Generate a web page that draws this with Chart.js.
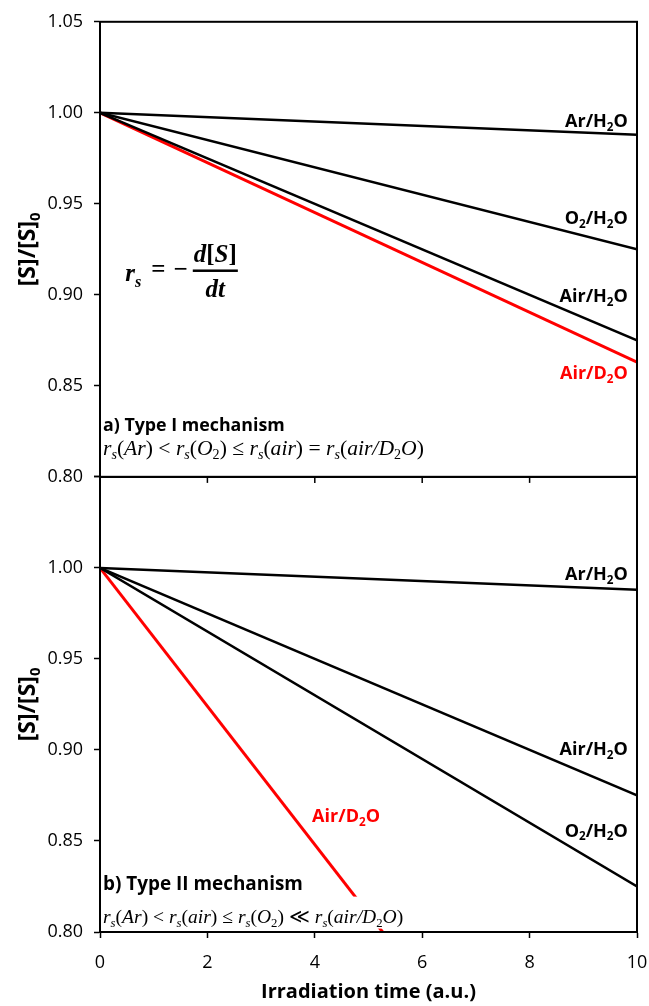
<!DOCTYPE html>
<html>
<head>
<meta charset="utf-8">
<script src="https://cdn.jsdelivr.net/npm/chart.js@4"></script>
<style>
  html, body { margin: 0; padding: 0; background: #fff; }
  #wrap { width: 649px; height: 1006px; position: relative; }
</style>
</head>
<body>
<div id="wrap"><canvas id="chart" width="649" height="1006"></canvas></div>
<script>
// Irradiation time (a.u.), start and end of each straight line
const time = [0, 10];

// a) Type I mechanism
const arH2O_a = [1.000, 0.988];
const o2H2O_a = [1.000, 0.925];
const airH2O_a = [1.000, 0.875];
const airD2O_a = [1.000, 0.863];

// b) Type II mechanism
const arH2O_b = [1.000, 0.988];
const airH2O_b = [1.000, 0.875];
const o2H2O_b = [1.000, 0.825];
const airD2O_b = [1.000, 0.620];

const xTickStep = 2;
const yMin = 0.80, yMax = 1.05, yTickStep = 0.05;

const SANS = '"Open Sans", "Noto Sans", sans-serif';
const SERIF = '"Liberation Serif", "DejaVu Serif", serif';
const RED = '#ff0000';

function pts(ys) {
  return time.map((t, i) => ({ x: t, y: ys[i] }));
}

function line(ys, axis, color, width) {
  return {
    data: pts(ys),
    yAxisID: axis,
    borderColor: color,
    borderWidth: width,
    pointRadius: 0,
    tension: 0,
  };
}

// draw text made of parts: [text, sub, italic]
function drawRich(ctx, x, y, parts, opt) {
  const size = opt.size;
  const fontOf = (p) => {
    const s = p[1] ? size * 0.65 : size;
    return (p[2] ? 'italic ' : '') + (opt.bold ? 'bold ' : '') + s + 'px ' + opt.family;
  };
  let w = 0;
  parts.forEach((p) => { ctx.font = fontOf(p); w += ctx.measureText(p[0]).width; });
  let cx = x;
  if (opt.align === 'right') cx = x - w;
  if (opt.align === 'center') cx = x - w / 2;
  const base = y + size * 0.36;
  ctx.fillStyle = opt.color || '#000';
  ctx.textBaseline = 'alphabetic';
  ctx.textAlign = 'left';
  parts.forEach((p) => {
    ctx.font = fontOf(p);
    ctx.fillText(p[0], cx, p[1] ? base + size * 0.22 : base);
    cx += ctx.measureText(p[0]).width;
  });
  return { left: x, right: x + w, width: w };
}

// font size so that parts fill a given width
function fitSize(ctx, parts, family, bold, target, base) {
  let w = 0;
  parts.forEach((p) => {
    const s = p[1] ? base * 0.65 : base;
    ctx.font = (p[2] ? 'italic ' : '') + (bold ? 'bold ' : '') + s + 'px ' + family;
    w += ctx.measureText(p[0]).width;
  });
  return base * target / w;
}

const lblAr = [['Ar/H', 0], ['2', 1], ['O', 0]];
const lblO2 = [['O', 0], ['2', 1], ['/H', 0], ['2', 1], ['O', 0]];
const lblAir = [['Air/H', 0], ['2', 1], ['O', 0]];
const lblAirD = [['Air/D', 0], ['2', 1], ['O', 0]];

const formulaA = [
  ['r', 0, 1], ['s', 1, 1], ['(', 0, 0], ['Ar', 0, 1], [') < ', 0, 0],
  ['r', 0, 1], ['s', 1, 1], ['(', 0, 0], ['O', 0, 1], ['2', 1, 0], [') \u2264 ', 0, 0],
  ['r', 0, 1], ['s', 1, 1], ['(', 0, 0], ['air', 0, 1], [') = ', 0, 0],
  ['r', 0, 1], ['s', 1, 1], ['(', 0, 0], ['air/D', 0, 1], ['2', 1, 0], ['O', 0, 1], [')', 0, 0],
];
const formulaB = [
  ['r', 0, 1], ['s', 1, 1], ['(', 0, 0], ['Ar', 0, 1], [') < ', 0, 0],
  ['r', 0, 1], ['s', 1, 1], ['(', 0, 0], ['air', 0, 1], [') \u2264 ', 0, 0],
  ['r', 0, 1], ['s', 1, 1], ['(', 0, 0], ['O', 0, 1], ['2', 1, 0], [') \u226A ', 0, 0],
  ['r', 0, 1], ['s', 1, 1], ['(', 0, 0], ['air/D', 0, 1], ['2', 1, 0], ['O', 0, 1], [')', 0, 0],
];

const annotate = {
  id: 'annotate',
  afterDraw(chart) {
    const ctx = chart.ctx;
    const x = chart.scales.x;
    const ya = chart.scales.yA;
    const yb = chart.scales.yB;
    const area = chart.chartArea;
    ctx.save();

    // white box behind the Type II formula (hides the red line there)
    const fB = fitSize(ctx, formulaB, SERIF, false, 300, 18);
    const fbY = yb.getPixelForValue(0.809);
    ctx.fillStyle = '#fff';
    ctx.fillRect(area.left + 1, fbY - 19, 305, 32);

    // panel frames
    ctx.strokeStyle = '#000';
    ctx.lineWidth = 2;
    ctx.strokeRect(area.left, ya.top, area.right - area.left, ya.bottom - ya.top);
    ctx.strokeRect(area.left, yb.top, area.right - area.left, yb.bottom - yb.top);

    // x tick marks under the top panel
    ctx.lineWidth = 1.5;
    x.ticks.forEach((t) => {
      const px = x.getPixelForValue(t.value);
      ctx.beginPath();
      ctx.moveTo(px, ya.bottom);
      ctx.lineTo(px, ya.bottom + 6);
      ctx.stroke();
    });

    const lab = { size: 18, family: SANS, bold: true, align: 'right' };
    const xr = x.getPixelForValue(9.83);
    drawRich(ctx, xr, ya.getPixelForValue(0.9956), lblAr, lab);
    drawRich(ctx, xr, ya.getPixelForValue(0.9425), lblO2, lab);
    drawRich(ctx, xr, ya.getPixelForValue(0.8997), lblAir, lab);
    drawRich(ctx, xr, ya.getPixelForValue(0.8575), lblAirD, Object.assign({}, lab, { color: RED }));

    drawRich(ctx, xr, yb.getPixelForValue(0.9967), lblAr, lab);
    drawRich(ctx, xr, yb.getPixelForValue(0.9008), lblAir, lab);
    drawRich(ctx, xr, yb.getPixelForValue(0.856), lblO2, lab);
    drawRich(ctx, x.getPixelForValue(3.95), yb.getPixelForValue(0.864), lblAirD,
      Object.assign({}, lab, { color: RED, align: 'left' }));

    // mechanism titles and rate relations
    const xl = area.left + 3;
    const tA = [['a) Type I mechanism', 0]];
    const tB = [['b) Type II mechanism', 0]];
    drawRich(ctx, xl, ya.getPixelForValue(0.829), tA,
      { size: fitSize(ctx, tA, SANS, true, 182, 18), family: SANS, bold: true });
    drawRich(ctx, xl, ya.getPixelForValue(0.8165), formulaA,
      { size: fitSize(ctx, formulaA, SERIF, false, 321, 18), family: SERIF });
    drawRich(ctx, xl, yb.getPixelForValue(0.8268), tB,
      { size: fitSize(ctx, tB, SANS, true, 200, 18), family: SANS, bold: true });
    drawRich(ctx, xl, fbY, formulaB, { size: fB, family: SERIF });

    // rate definition r_s = -d[S]/dt
    const eqY = ya.getPixelForValue(0.9134);
    const ex = x.getPixelForValue(0.47);
    const em = { size: 25, family: SERIF, bold: true };
    let r = drawRich(ctx, ex, eqY + 2, [['r', 0, 1], ['s', 1, 1]], em);
    r = drawRich(ctx, r.right + 10, eqY - 2, [['=', 0, 0]], em);
    r = drawRich(ctx, r.right + 8, eqY - 2, [['\u2212', 0, 0]], em);
    const num = [['d', 0, 1], ['[', 0, 0], ['S', 0, 1], [']', 0, 0]];
    const den = [['dt', 0, 1]];
    const bx = r.right + 5;
    let nw = 0;
    num.forEach((p) => { ctx.font = (p[2] ? 'italic ' : '') + 'bold 25px ' + SERIF; nw += ctx.measureText(p[0]).width; });
    ctx.fillStyle = '#000';
    ctx.fillRect(bx, eqY - 1, nw + 2, 2.5);
    drawRich(ctx, bx + nw / 2 + 1, eqY - 17, num, Object.assign({}, em, { align: 'center' }));
    drawRich(ctx, bx + nw / 2 + 1, eqY + 18, den, Object.assign({}, em, { align: 'center' }));

    // y axis titles [S]/[S]0
    const yt = [['[S]/[S]', 0], ['0', 1]];
    [ya, yb].forEach((s) => {
      ctx.save();
      ctx.translate(27, (s.top + s.bottom) / 2);
      ctx.rotate(-Math.PI / 2);
      drawRich(ctx, 0, 0, yt, { size: 23, family: SANS, bold: true, align: 'center' });
      ctx.restore();
    });

    ctx.restore();
  },
};

function yScale(hideTop) {
  return {
    type: 'linear',
    position: 'left',
    stack: 'panels',
    stackWeight: 1,
    min: yMin,
    max: yMax,
    ticks: {
      stepSize: yTickStep,
      color: '#000',
      padding: 11,
      font: { family: SANS, size: 18 },
      callback: (v) => (hideTop && v > 1.04 ? '' : v.toFixed(2)),
    },
    grid: { drawOnChartArea: false, tickLength: 6, tickColor: '#000', tickWidth: 1.5 },
    border: { color: '#000', width: 2 },
    afterFit: (s) => { s.width = 100; },
  };
}

new Chart(document.getElementById('chart'), {
  type: 'line',
  data: {
    datasets: [
      line(arH2O_a, 'yA', '#000', 2.5),
      line(o2H2O_a, 'yA', '#000', 2.5),
      line(airH2O_a, 'yA', '#000', 2.5),
      line(airD2O_a, 'yA', RED, 3),
      line(arH2O_b, 'yB', '#000', 2.5),
      line(airH2O_b, 'yB', '#000', 2.5),
      line(o2H2O_b, 'yB', '#000', 2.5),
      line(airD2O_b, 'yB', RED, 3),
    ],
  },
  options: {
    responsive: false,
    animation: false,
    layout: { padding: { top: 19, right: 0, left: 0, bottom: 0 } },
    plugins: { legend: { display: false }, tooltip: { enabled: false } },
    scales: {
      x: {
        type: 'linear',
        min: 0,
        max: 10,
        ticks: { stepSize: xTickStep, color: '#000', padding: 14, font: { family: SANS, size: 18 } },
        grid: { drawOnChartArea: false, tickLength: 6, tickColor: '#000', tickWidth: 1.5 },
        border: { color: '#000', width: 2 },
        title: {
          display: true,
          text: 'Irradiation time (a.u.)',
          color: '#000',
          font: { family: SANS, size: 20, weight: 'bold' },
          padding: { top: 0, bottom: 2 },
        },
        afterFit: (s) => {
          s.height = 74;
          s.paddingLeft = 0;
          s.paddingRight = 12;
        },
      },
      yB: yScale(true),
      yA: yScale(false),
    },
  },
  plugins: [annotate],
});
</script>
</body>
</html>
